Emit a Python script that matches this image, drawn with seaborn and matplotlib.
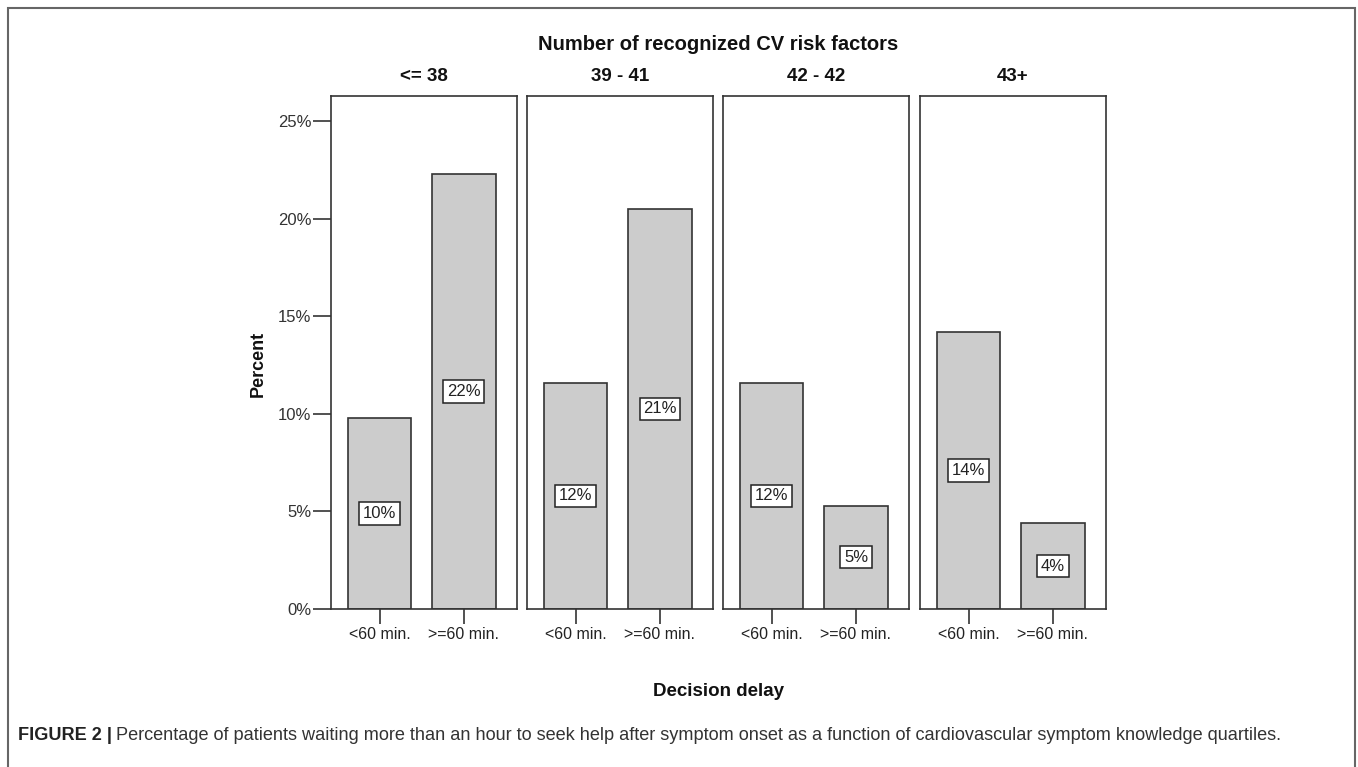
import matplotlib
matplotlib.use('Agg')
import matplotlib.pyplot as plt
import seaborn as sns
import pandas as pd
from matplotlib.patches import Rectangle

# ---- data ----
groups = ['<= 38', '39 - 41', '42 - 42', '43+']
delays = ['<60 min.', '>=60 min.']
pct_lt60 = [9.8, 11.6, 11.6, 14.2]
pct_ge60 = [22.3, 20.5, 5.3, 4.4]
labels_lt60 = ['10%', '12%', '12%', '14%']
labels_ge60 = ['22%', '21%', '5%', '4%']
yticks = [0, 5, 10, 15, 20, 25]
ytick_labels = ['0%', '5%', '10%', '15%', '20%', '25%']

sns.set_theme(style='white')
plt.rcParams['font.family'] = ['Liberation Sans', 'DejaVu Sans']

W, H = 1358, 767
fig = plt.figure(figsize=(W / 100, H / 100), dpi=100)
fig.patch.set_facecolor('white')


def fx(px):
    return px / W


def fy(py):
    return 1 - py / H


lefts = [331, 527, 723, 920]
pw = 186
top, bottom = 96, 609
line_c = '#333333'

for i, g in enumerate(groups):
    ax = fig.add_axes([fx(lefts[i]), fy(bottom), pw / W, (bottom - top) / H])
    sub = pd.DataFrame({'delay': delays, 'pct': [pct_lt60[i], pct_ge60[i]]})
    sns.barplot(data=sub, x='delay', y='pct', order=delays, color='#cccccc',
                saturation=1, edgecolor=line_c, linewidth=1.2, width=0.75,
                ax=ax, errorbar=None)
    ax.set_xlim(-0.58, 1.63)
    ax.set_ylim(0, 26.28)
    ax.set_xlabel('')
    ax.set_ylabel('')
    for s in ax.spines.values():
        s.set_visible(True)
        s.set_color(line_c)
        s.set_linewidth(1.2)
    ax.tick_params(axis='x', length=11, width=1.2, color=line_c, direction='out',
                   pad=2, labelsize=11.5, labelcolor='#222222', bottom=True)
    if i == 0:
        ax.set_yticks(yticks)
        ax.set_yticklabels(ytick_labels)
        ax.tick_params(axis='y', length=13, width=1.2, color=line_c, direction='out',
                       pad=1, labelsize=12, labelcolor='#333333', left=True)
    else:
        ax.set_yticks([])
    ax.set_title(g, fontsize=13.5, fontweight='bold', pad=11, color='#111111')
    vals = [pct_lt60[i], pct_ge60[i]]
    labs = [labels_lt60[i], labels_ge60[i]]
    for j, (v, lab) in enumerate(zip(vals, labs)):
        ax.text(j, v / 2, lab, ha='center', va='center', fontsize=12, color='#222222',
                bbox=dict(boxstyle='square,pad=0.22', fc='white', ec='#222222', lw=1.1))

fig.text(fx(718.5), fy(44), 'Number of recognized CV risk factors', ha='center', va='center',
         fontsize=14.5, fontweight='bold', color='#111111')
fig.text(fx(258), fy(364), 'Percent', ha='center', va='center', rotation=90,
         fontsize=13, fontweight='bold', color='#111111')
fig.text(fx(718.5), fy(692), 'Decision delay', ha='center', va='center',
         fontsize=13.5, fontweight='bold', color='#111111')

# caption
renderer = fig.canvas.get_renderer()
t1 = fig.text(fx(18), fy(736), 'FIGURE 2 |', ha='left', va='center', fontsize=13.1,
              fontweight='bold', color='#222222')
bb = t1.get_window_extent(renderer=renderer)
fig.text(bb.x1 / W + 4 / W, fy(736),
         'Percentage of patients waiting more than an hour to seek help after symptom onset as a function of cardiovascular symptom knowledge quartiles.',
         ha='left', va='center', fontsize=13.1, color='#333333')

# outer frame
fig.patches.append(Rectangle((fx(8), fy(820)), (1355 - 8) / W, (820 - 8) / H,
                             transform=fig.transFigure, fill=False, ec='#666666',
                             lw=1.5, clip_on=False))

fig.savefig('out.png', dpi=100)
